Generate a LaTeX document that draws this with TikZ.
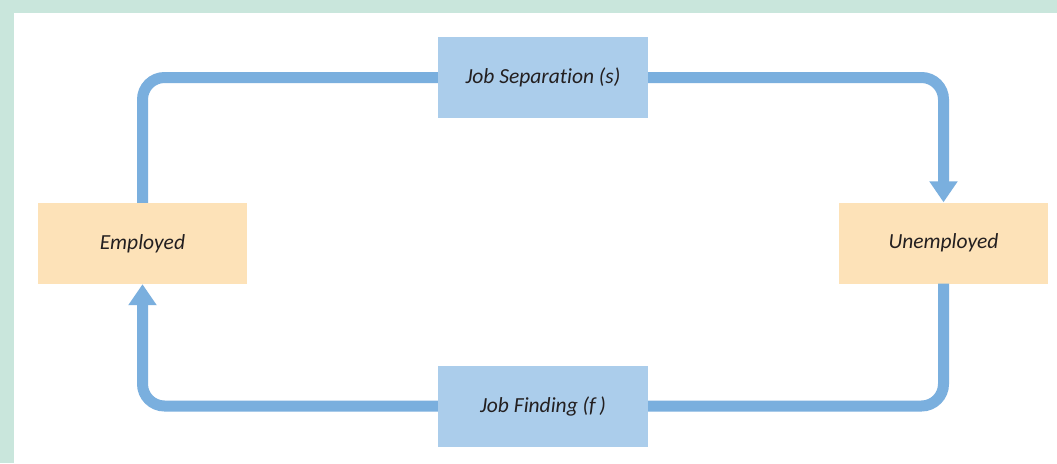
\documentclass[tikz,border=0pt]{standalone}
\usepackage{fontspec}
\setmainfont{Carlito}[Ligatures={NoCommon}]
\usetikzlibrary{arrows.meta}
\definecolor{mint}{HTML}{C9E6DC}
\definecolor{boxblue}{HTML}{ABCDEB}
\definecolor{boxorange}{HTML}{FDE2B8}
\definecolor{lineblue}{HTML}{7AAFDE}
\definecolor{txt}{HTML}{231F20}
\tikzset{
  ratebox/.style={fill=boxblue, draw=none, minimum width=210pt, minimum height=81pt, inner sep=0pt, font=\fontsize{21.5}{24}\selectfont\itshape, text=txt},
  statebox/.style={fill=boxorange, draw=none, minimum width=209pt, minimum height=81pt, inner sep=0pt, font=\fontsize{21.5}{24}\selectfont\itshape, text=txt},
  flow/.style={draw=lineblue, line width=11pt, rounded corners=22pt},
  flowarrow/.style={flow, -{Triangle[length=21pt, width=27pt]}}
}
\begin{document}
\begin{tikzpicture}[x=1pt,y=-1pt]
\useasboundingbox (0,0) rectangle (1057,463);
\fill[mint] (0,0) rectangle (1057,463);
\fill[white] (14,13) rectangle (1057,463);
\node[ratebox] (sep) at (543,77.5) {Job Separation (\textit{s})};
\node[ratebox] (find) at (543,406) {Job Finding (\textit{f}\,)};
\node[statebox] (emp) at (142.5,243.5) {Employed};
\node[statebox] (unemp) at (943.5,243) {Unemployed};
\draw[flow] (sep.west) -| (emp.north);
\draw[flowarrow] (sep.east) -| (unemp.north);
\draw[flow] (unemp.south) |- (find.east);
\draw[flowarrow] (find.west) -| (emp.south);
\end{tikzpicture}
\end{document}
